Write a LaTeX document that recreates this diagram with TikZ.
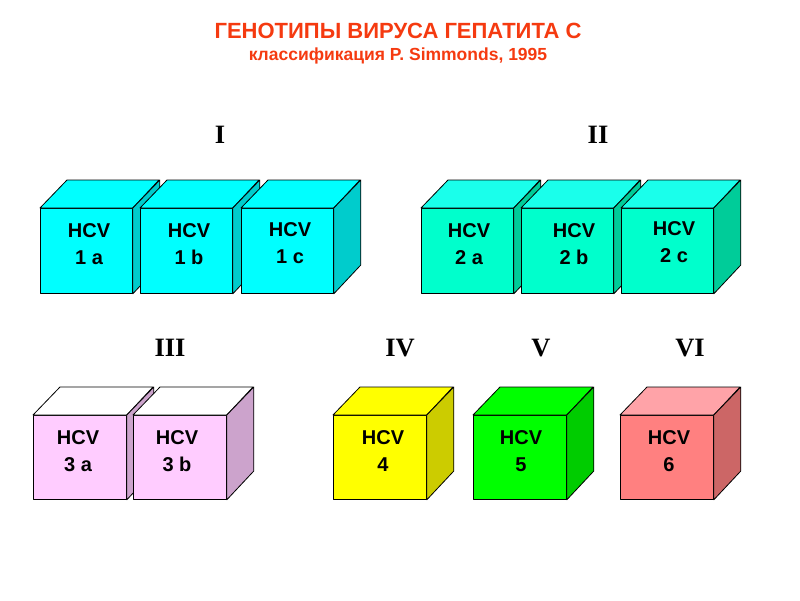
\documentclass[tikz,border=0pt]{standalone}
\usepackage{fontspec}
\setmainfont{Liberation Sans}
\newfontfamily\romfont{Liberation Serif}
\definecolor{ttl}{HTML}{F53A10}
\definecolor{cyF}{HTML}{00FFFF}\definecolor{cyT}{HTML}{00FFFF}\definecolor{cyS}{HTML}{00CCCC}
\definecolor{tqF}{HTML}{00FFCC}\definecolor{tqT}{HTML}{1AFFEB}\definecolor{tqS}{HTML}{00CC99}
\definecolor{pkF}{HTML}{FFCCFF}\definecolor{pkT}{HTML}{FFFFFF}\definecolor{pkS}{HTML}{CCA3CC}
\definecolor{ylF}{HTML}{FFFF00}\definecolor{ylT}{HTML}{FFFF00}\definecolor{ylS}{HTML}{CCCC00}
\definecolor{grF}{HTML}{00FF00}\definecolor{grT}{HTML}{00FF00}\definecolor{grS}{HTML}{00CC00}
\definecolor{rdF}{HTML}{FF8080}\definecolor{rdT}{HTML}{FFA3A8}\definecolor{rdS}{HTML}{CC6666}
\tikzset{
  face/.style={draw=black, line width=0.8pt, line join=round},
  frontface/.style={face, rectangle, inner sep=0pt, anchor=north west},
  lbl/.style={font=\fontsize{20}{26.5}\selectfont\bfseries, align=center, text=black},
  roman/.style={font=\fontsize{26.5}{30}\romfont\bfseries, text=black},
}
% #1 name, #2 x, #3 y (top-left of front), #4 width, #5 height, #6 colour prefix
\newcommand{\mycube}[6]{%
  \node[frontface, fill=#6F, minimum width=#4pt, minimum height=#5pt] (#1) at (#2,#3) {};
  \draw[face, fill=#6T] (#1.north west) -- ++(27,-28) -- ++(#4,0) -- (#1.north east) -- cycle;
  \draw[face, fill=#6S] (#1.north east) -- ++(27,-28) -- ++(0,#5) -- (#1.south east) -- cycle;
}
\begin{document}
\begin{tikzpicture}[x=1pt,y=-1pt]
\useasboundingbox (0,0) rectangle (800,600);
\node[font=\fontsize{22}{26}\selectfont\bfseries, text=ttl] (title) at (398,31) {ГЕНОТИПЫ ВИРУСА ГЕПАТИТА С};
\node[font=\fontsize{17.5}{20}\selectfont\bfseries, text=ttl] (sub) at (398,56) {классификация P. Simmonds, 1995};

\node[roman] (r1) at (220,135) {I};
\node[roman] (r2) at (598,135) {II};
\node[roman] (r3) at (170,348) {III};
\node[roman] (r4) at (400,348) {IV};
\node[roman] (r5) at (541,348) {V};
\node[roman] (r6) at (690,348) {VI};

\mycube{c1a}{40}{208}{92}{85}{cy}
\mycube{c1b}{140}{208}{92}{85}{cy}
\mycube{c1c}{241}{208}{92}{85}{cy}
\mycube{c2a}{421}{208}{92}{85}{tq}
\mycube{c2b}{521}{208}{92}{85}{tq}
\mycube{c2c}{621}{208}{92}{85}{tq}
\mycube{c3a}{33}{415}{93}{84}{pk}
\mycube{c3b}{133}{415}{93}{84}{pk}
\mycube{c4}{333}{415}{93}{84}{yl}
\mycube{c5}{473}{415}{93}{84}{gr}
\mycube{c6}{620}{415}{93}{84}{rd}

\node[lbl] (t1a) at (89,244) {HCV\\1 a};
\node[lbl] (t1b) at (189,244) {HCV\\1 b};
\node[lbl] (t1c) at (290,243) {HCV\\1 c};
\node[lbl] (t2a) at (469,244) {HCV\\2 a};
\node[lbl] (t2b) at (574,244) {HCV\\2 b};
\node[lbl] (t2c) at (674,242) {HCV\\2 c};
\node[lbl] (t3a) at (78,451) {HCV\\3 a};
\node[lbl] (t3b) at (177,451) {HCV\\3 b};
\node[lbl] (t4) at (383,451) {HCV\\4};
\node[lbl] (t5) at (521,451) {HCV\\5};
\node[lbl] (t6) at (669,451) {HCV\\6};
\end{tikzpicture}
\end{document}
